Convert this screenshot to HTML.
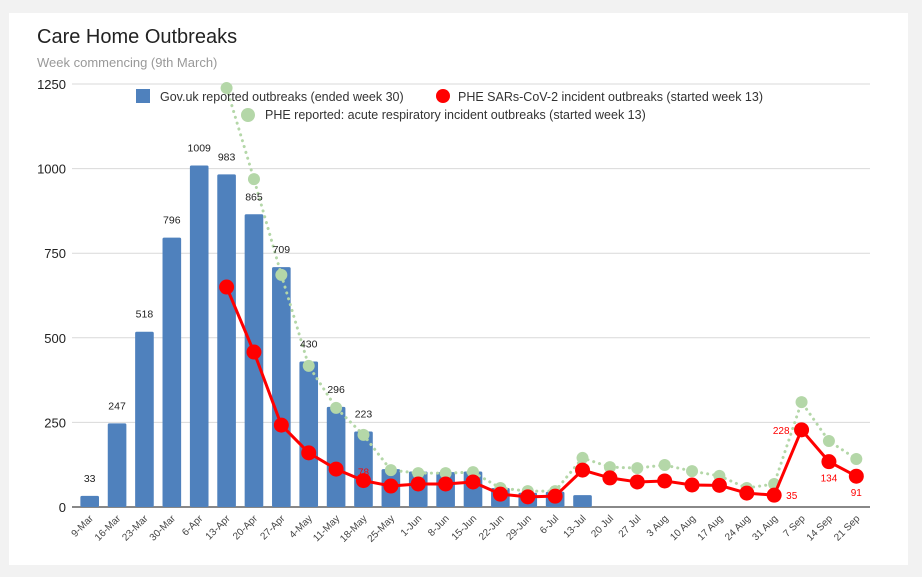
<!DOCTYPE html>
<html><head><meta charset="utf-8"><style>
body{margin:0;background:#f2f2f2;width:922px;height:577px;overflow:hidden;font-family:"Liberation Sans",sans-serif}
#card{position:absolute;left:9px;top:13px;width:899px;height:552px;background:#fff}
</style></head><body>
<div id="card"></div>
<svg id="chart" width="922" height="577" style="position:absolute;left:0;top:0">
<text x="37" y="43" font-size="20" fill="#222">Care Home Outbreaks</text>
<text x="37" y="67" font-size="13" fill="#999">Week commencing (9th March)</text>
<g id="grid"></g><g id="bars"></g><g id="lines"></g><g id="labels"></g>
<g>
<rect x="136" y="89" width="14" height="14" fill="#4f81bd"/>
<text x="160" y="101" font-size="12.5" fill="#333">Gov.uk reported outbreaks (ended week 30)</text>
<circle cx="443" cy="96" r="7" fill="#ff0000"/>
<text x="458" y="101" font-size="12.5" fill="#333">PHE SARs-CoV-2 incident outbreaks (started week 13)</text>
<circle cx="248" cy="115" r="7" fill="#b4d7a8"/>
<text x="265" y="119" font-size="12.5" fill="#333">PHE reported: acute respiratory incident outbreaks (started week 13)</text>
</g>
</svg>
<script>
const categories=["9-Mar","16-Mar","23-Mar","30-Mar","6-Apr","13-Apr","20-Apr","27-Apr","4-May","11-May","18-May","25-May","1-Jun","8-Jun","15-Jun","22-Jun","29-Jun","6-Jul","13-Jul","20 Jul","27 Jul","3 Aug","10 Aug","17 Aug","24 Aug","31 Aug","7 Sep","14 Sep","21 Sep"];
const govuk=[33,247,518,796,1009,983,865,709,430,296,223,112,105,103,105,56,42,45,35,null,null,null,null,null,null,null,null,null,null];
const govukLabels=[33,247,518,796,1009,983,865,709,430,296,223];
const pheSars=[null,null,null,null,null,650,458,242,160,112,78,62,68,68,74,38,30,32,109,86,74,77,65,64,41,35,228,134,91];
const pheAcute=[null,null,null,null,null,1238,969,686,417,293,213,109,100,100,103,56,47,47,145,118,115,124,106,92,56,68,310,195,142];
const yTicks=[0,250,500,750,1000,1250];
const NS="http://www.w3.org/2000/svg";
const L=76,R=870,Y0=507,Y1=84,YMAX=1250;
const bw=(R-L)/categories.length;
const x=i=>L+bw*(i+0.5);
const y=v=>Y0-(Y0-Y1)*v/YMAX;
function mk(t,a,p){const e=document.createElementNS(NS,t);for(const k in a)e.setAttribute(k,a[k]);p.appendChild(e);return e;}
const grid=document.getElementById('grid'),bars=document.getElementById('bars'),lines=document.getElementById('lines'),labels=document.getElementById('labels');
yTicks.forEach(t=>{
 const l=mk('line',{x1:72,x2:R,y1:y(t),y2:y(t),stroke:t===0?'#888':'#d9d9d9','stroke-width':t===0?2:1},grid);
 
 
 const tx=mk('text',{x:66,y:y(t)+5,'text-anchor':'end','font-size':13,fill:'#222'},grid);
 tx.textContent=t;
 
 
});
categories.forEach((c,i)=>{
 const t=mk('text',{transform:`translate(${x(i)+4},${Y0+12}) rotate(-45)`,'text-anchor':'end','font-size':10,fill:'#444'},grid);
 t.textContent=c;
 
 
 const v=govuk[i];
 if(v!=null){
  const r=mk('rect',{x:x(i)-bw*0.34,y:y(v),width:bw*0.68,height:Y0-y(v),fill:'#4f81bd',rx:1.5},bars);
  
  
 }
 if(govukLabels[i]!=null){
  const lb=mk('text',{x:x(i),y:y(govuk[i])-14,'text-anchor':'middle','font-size':10.5,fill:'#222'},labels);
  lb.textContent=govukLabels[i];
  
  
 }
});
function series(vals,color,w,dash,r,name){
 let d='';vals.forEach((v,i)=>{if(v!=null)d+=(d?'L':'M')+x(i)+','+y(v);});
 const p=mk('path',{d:d,fill:'none',stroke:color,'stroke-width':w,'stroke-dasharray':dash||'','stroke-linecap':'round','stroke-linejoin':'round'},lines);
 
 
 vals.forEach((v,i)=>{if(v==null)return;
  const c=mk('circle',{cx:x(i),cy:y(v),r:r,fill:color},lines);
  
  
 });
}
series(pheAcute,'#b4d7a8',3,'0.1 6',6,'phe-acute');
series(pheSars,'#ff0000',3,'',7.5,'phe-sars');
function rl(i,dx,dy,anchor){
 const t=mk('text',{x:x(i)+dx,y:y(pheSars[i])+dy,'text-anchor':anchor,'font-size':10,fill:'#ff0000'},labels);
 t.textContent=pheSars[i];
 
 
}
rl(10,0,-5,'middle');rl(25,12,4,'start');rl(26,-12,4,'end');rl(27,0,20,'middle');rl(28,0,20,'middle');
</script>
</body></html>
